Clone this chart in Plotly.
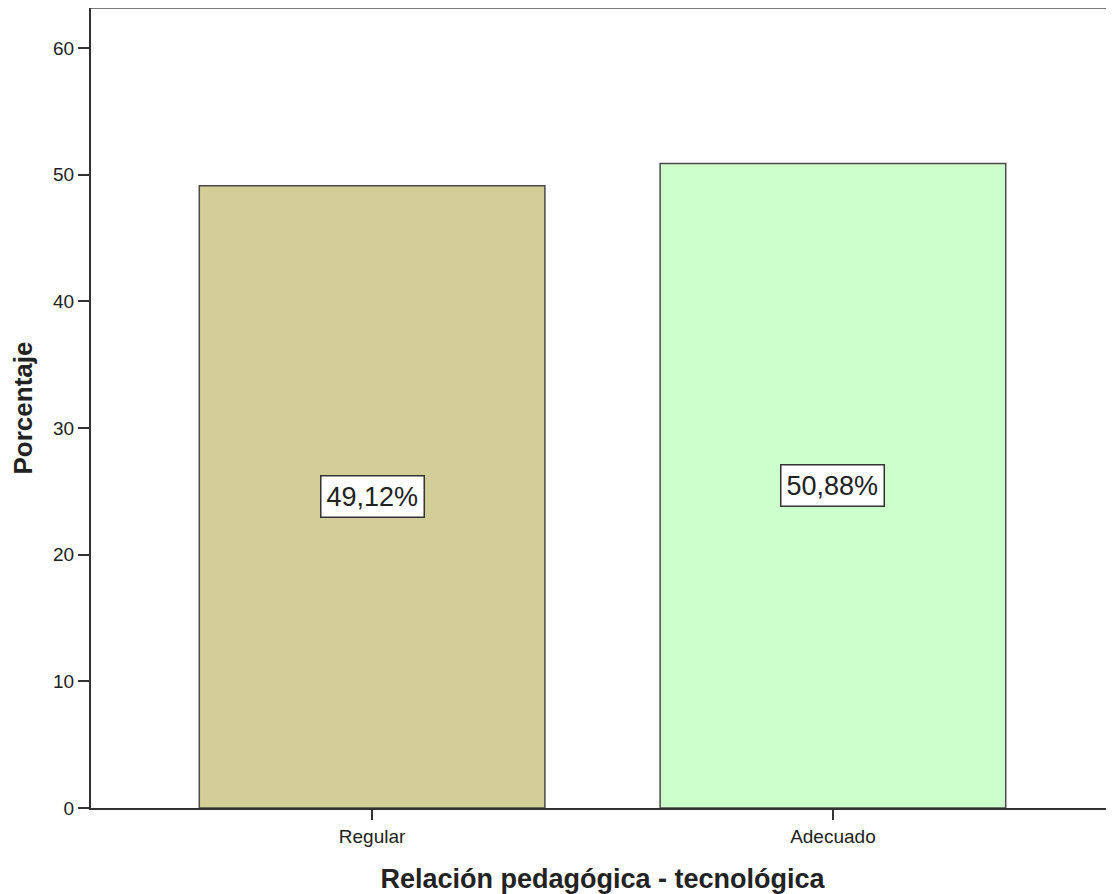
import plotly.graph_objects as go

categories = ["Regular", "Adecuado"]
values = [49.12, 50.88]
labels = ["49,12%", "50,88%"]
colors = ["#D3CD97", "#CCFFCC"]
y_ticks = [0, 10, 20, 30, 40, 50, 60]

fig = go.Figure()
fig.add_trace(go.Bar(
    x=categories, y=values, width=0.75,
    marker=dict(color=colors, line=dict(color="#4a4a4a", width=1.5)),
    hoverinfo="skip", showlegend=False,
))

for c, v, t in zip(categories, values, labels):
    fig.add_annotation(
        x=c, y=v / 2, text=t, showarrow=False,
        font=dict(family="Liberation Sans, Arial, sans-serif", size=27, color="#222222"),
        bgcolor="white", bordercolor="#333333", borderwidth=1.5, borderpad=5,
    )

fig.update_layout(
    width=1106, height=886,
    margin=dict(l=83, r=0, t=0, b=86),
    paper_bgcolor="white", plot_bgcolor="white",
    font=dict(family="Liberation Sans, Arial, sans-serif", color="#222222"),
)
fig.update_xaxes(
    range=[-0.61, 1.61], showline=True, linecolor="#333333", linewidth=2,
    ticks="outside", ticklen=10, tickcolor="#333333", tickwidth=1.5,
    tickfont=dict(size=19), mirror=False, showgrid=False,
    title=dict(text="<b>Relación pedagógica - tecnológica</b>", font=dict(size=27), standoff=24),
)
fig.update_yaxes(
    range=[0, 63.16], tickvals=y_ticks, showline=True, linecolor="#333333", linewidth=2,
    ticks="outside", ticklen=11, tickcolor="#333333", tickwidth=1.5,
    tickfont=dict(size=19), showgrid=False, zeroline=False,
    title=dict(text="<b>Porcentaje</b>", font=dict(size=26), standoff=14),
)
# top frame line
fig.add_shape(type="line", xref="paper", yref="paper", x0=0, x1=1, y0=1, y1=1,
              line=dict(color="#7a7a7a", width=2))

fig.write_html("out.html")
